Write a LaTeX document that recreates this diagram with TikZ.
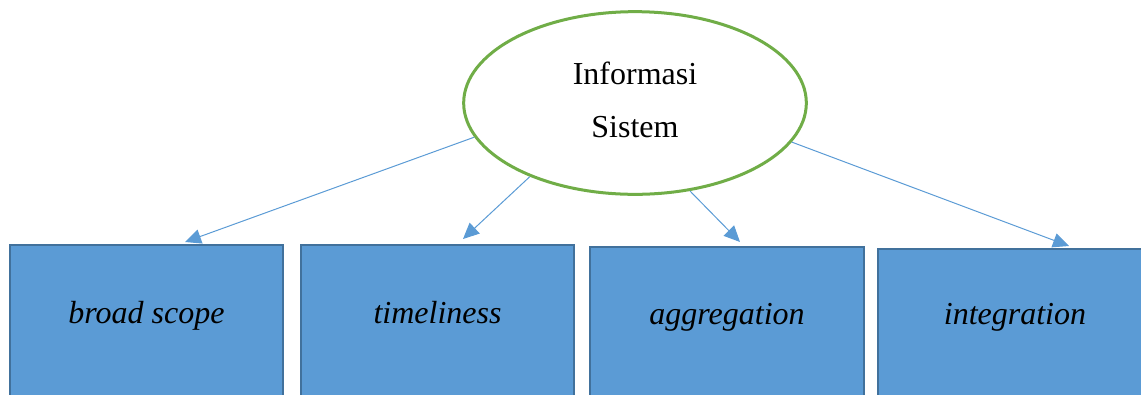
\documentclass[tikz,border=0pt]{standalone}
\usepackage{fontspec}
\setmainfont{Liberation Serif}
\usetikzlibrary{shapes,arrows.meta,calc}

\definecolor{boxblue}{HTML}{5B9BD5}
\definecolor{boxedge}{HTML}{41719C}
\definecolor{ellgreen}{HTML}{70AD47}

\begin{document}
\begin{tikzpicture}[x=0.75pt,y=-0.75pt,
    catbox/.style={draw=boxedge,line width=1.5pt,fill=boxblue,minimum width=205pt,minimum height=150pt,anchor=north,inner sep=0pt},
    catlabel/.style={font=\fontsize{24}{28}\selectfont\itshape,anchor=base},
    link/.style={draw=boxblue,line width=0.75pt,-{Triangle[length=12pt,width=11pt]}}]
      \useasboundingbox (0,0) rectangle (1141,394);
      \clip (0,0) rectangle (1141,394);
      % top ellipse
      \node[ellipse,draw=ellgreen,line width=2.25pt,minimum width=257pt,minimum height=137pt,
        align=center,text depth=4.5pt,font=\fontsize{24}{40}\selectfont] (info) at (635,103) {Informasi\\Sistem};
      % four boxes, cut off at the bottom
      \node[catbox] (scope) at (146.5,244) {};
      \node[catbox] (timeliness) at (437.5,244) {};
      \node[catbox] (aggregation) at (727,246) {};
      \node[catbox] (integration) at (1015,248) {};
      \node[catlabel] (scopetext) at ($(scope.north)+(0,79)$) {broad scope};
      \node[catlabel] (timelinesstext) at ($(timeliness.north)+(0,79)$) {timeliness};
      \node[catlabel] (aggregationtext) at ($(aggregation.north)+(0,78)$) {aggregation};
      \node[catlabel] (integrationtext) at ($(integration.north)+(0,76)$) {integration};
      % arrows from the ellipse
      \draw[link] (info.192) -- ($(scope.north)+(38.5,-2)$);
      \draw[link] (info.215) -- ($(timeliness.north)+(25.5,-5)$);
      \draw[link] (info.302) -- ($(aggregation.north)+(13,-4)$);
      \draw[link] (info.346) -- ($(integration.north)+(54,-2)$);
    \end{tikzpicture}
\end{document}
